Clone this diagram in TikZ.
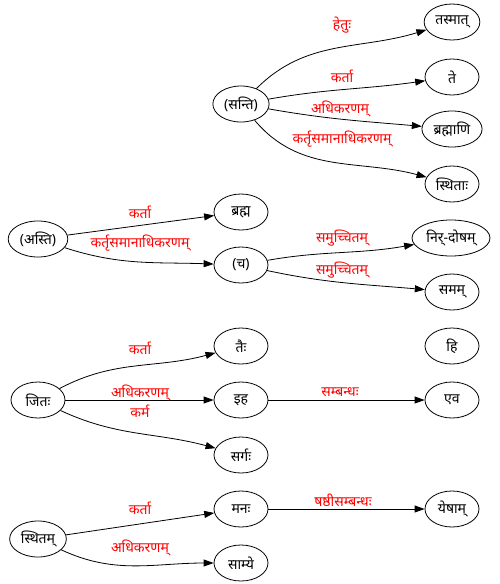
\documentclass[tikz,border=0pt]{standalone}
\usepackage{fontspec}
\setmainfont[Script=Devanagari]{Noto Sans}
\usepackage{tikz}
\usetikzlibrary{arrows.meta,shapes.geometric}
\definecolor{DepRed}{HTML}{FF0000}

\begin{document}
\begin{tikzpicture}[x=1pt,y=1pt,
  word/.style={draw,ellipse,line width=0.8pt,minimum width=54pt,minimum height=36pt,inner xsep=3pt,inner ysep=0pt,font=\fontsize{14}{16}\selectfont},
  rel/.style={text=DepRed,inner sep=0pt,font=\fontsize{14}{16}\selectfont},
  dep/.style={line width=0.8pt,-{Triangle[length=10pt,width=7pt]}}]
\path[use as bounding box] (0,0) rectangle (500,-584);
% first sentence
\node[word] (santi) at (241,-104) {(सन्ति)};
\node[word] (tasmat) at (452,-22) {तस्मात्};
\node[word] (te) at (452,-77) {ते};
\node[word] (brahmani) at (452,-129) {ब्रह्माणि};
\node[word] (sthitah) at (452,-184) {स्थिताः};
\node[word] (asti) at (38,-239) {(अस्ति)};
\node[word] (brahma) at (241,-212) {ब्रह्म};
\node[word] (ca) at (241,-265) {(च)};
\node[word] (nirdosam) at (451,-238) {निर्-दोषम्};
\node[word] (samam) at (452,-292) {समम्};
% second sentence
\node[word] (jitah) at (38,-400) {जितः};
\node[word] (taih) at (241,-346) {तैः};
\node[word] (iha) at (241,-400) {इह};
\node[word] (sargah) at (241,-455) {सर्गः};
\node[word] (hi) at (452,-346) {हि};
\node[word] (eva) at (452,-400) {एव};
\node[word] (sthitam) at (38,-539) {स्थितम्};
\node[word] (manah) at (241,-509) {मनः};
\node[word] (samye) at (241,-563) {साम्ये};
\node[word] (yesam) at (452,-509) {येषाम्};
% relations
\draw[dep] (santi) to[out=45,in=197] (tasmat);
\draw[dep] (santi) to[out=10,in=188] (te);
\draw[dep] (santi) to[out=-10,in=175] (brahmani);
\draw[dep] (santi) to[out=-50,in=165] (sthitah);
\draw[dep] (asti) -- (brahma);
\draw[dep] (asti) to[out=-18,in=178] (ca);
\draw[dep] (ca) to[out=10,in=190] (nirdosam);
\draw[dep] (ca) to[out=-12,in=175] (samam);
\draw[dep] (jitah) to[out=28,in=195] (taih);
\draw[dep] (jitah) -- (iha);
\draw[dep] (jitah) to[out=-25,in=165] (sargah);
\draw[dep] (iha) -- (eva);
\draw[dep] (sthitam) -- (manah);
\draw[dep] (sthitam) to[out=-25,in=180] (samye);
\draw[dep] (manah) -- (yesam);
% labels
\node[rel] (l-hetu) at (342,-25) {हेतुः};
\node[rel] (l-karta1) at (342,-76) {कर्ता};
\node[rel] (l-adhi1) at (340,-109) {अधिकरणम्};
\node[rel] (l-ksa1) at (342,-139) {कर्तृसमानाधिकरणम्};
\node[rel] (l-karta2) at (140,-212) {कर्ता};
\node[rel] (l-ksa2) at (140,-243) {कर्तृसमानाधिकरणम्};
\node[rel] (l-samu1) at (342,-238) {समुच्चितम्};
\node[rel] (l-samu2) at (342,-270) {समुच्चितम्};
\node[rel] (l-karta3) at (140,-348) {कर्ता};
\node[rel] (l-adhi2) at (140,-393) {अधिकरणम्};
\node[rel] (l-karma) at (140,-411) {कर्म};
\node[rel] (l-samb) at (340,-392) {सम्बन्धः};
\node[rel] (l-karta4) at (140,-508) {कर्ता};
\node[rel] (l-adhi3) at (140,-548) {अधिकरणम्};
\node[rel] (l-sasthi) at (343,-500) {षष्ठीसम्बन्धः};
\end{tikzpicture}
\end{document}
